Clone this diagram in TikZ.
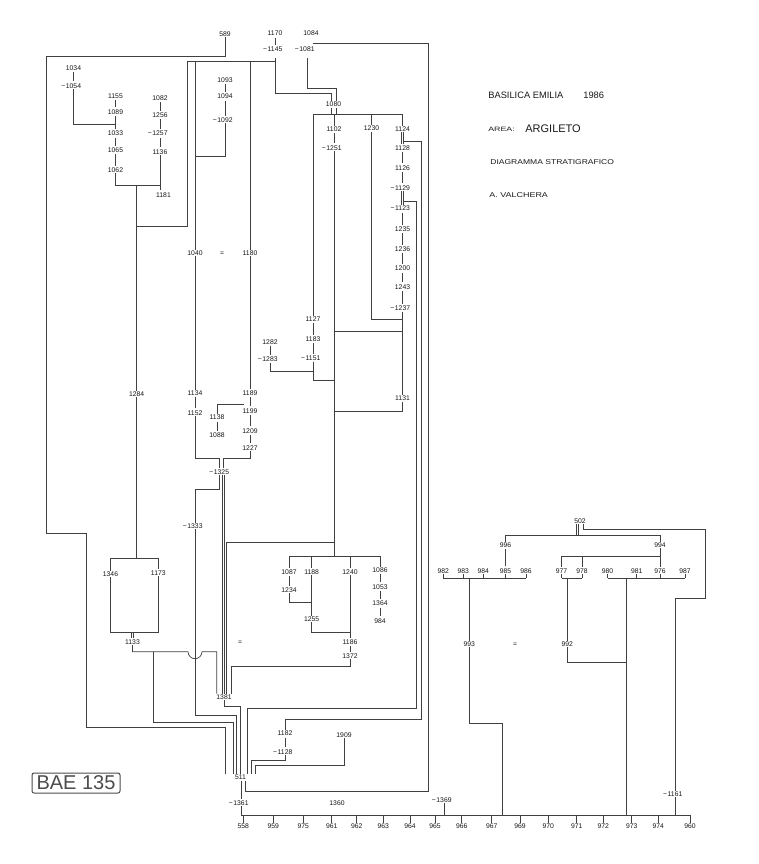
\documentclass[tikz,border=0pt]{standalone}
\usepackage{fontspec}
\setmainfont{Liberation Sans}
\usepackage{graphicx}
\newcommand\mylab[3]{\node[lab] (#1) at (#2) {#3};}
\newcommand\neglab[1]{\llap{−\kern0.6pt}#1}
\begin{document}
\begin{tikzpicture}[x=1pt,y=-1pt, line width=0.7pt, color=black!75,
  lab/.style={font=\fontsize{6.8}{7}\selectfont, inner sep=0.7pt, text=black!92},
  vt/.style={shorten <=1pt, shorten >=1pt},
  eqlk/.style={double=white, double distance=1.3pt, line width=0.55pt},
  ttl/.style={anchor=west, inner sep=0pt, text=black!90}]
\useasboundingbox (0,0) rectangle (758,864);
\coordinate (bl) at (0,815);
\coordinate (rowA) at (0,578.3);
% ---------- labels, left part
\mylab{n589}{225,34}{589}
\mylab{n1170}{275,33.5}{1170}
\mylab{nm1145}{275,49.5}{\neglab{1145}}
\mylab{n1084}{311,33}{1084}
\mylab{nm1081}{307,49.5}{\neglab{1081}}
\mylab{n1034}{73.5,68}{1034}
\mylab{nm1054}{73.5,85.7}{\neglab{1054}}
\mylab{n1155}{115.5,96}{1155}
\mylab{n1089}{115.5,111.7}{1089}
\mylab{n1033}{115.5,133.3}{1033}
\mylab{n1065}{115.5,150}{1065}
\mylab{n1062}{115.5,170}{1062}
\mylab{n1082}{160,98}{1082}
\mylab{n1256}{160,115}{1256}
\mylab{nm1257}{160,133.3}{\neglab{1257}}
\mylab{n1136}{160,151.7}{1136}
\mylab{n1181}{163.5,195}{1181}
\mylab{n1093}{225,80}{1093}
\mylab{n1094}{225,96.5}{1094}
\mylab{nm1092}{225,120}{\neglab{1092}}
\mylab{n1040}{195,253}{1040}
\mylab{eqa}{222,254}{=}
\mylab{n1180}{250,253}{1180}
\mylab{n1284}{136.7,394}{1284}
\mylab{n1134}{195,393}{1134}
\mylab{n1152}{195,412.7}{1152}
\mylab{n1189}{250,392.7}{1189}
\mylab{n1199}{250,410.7}{1199}
\mylab{n1209}{250,430.7}{1209}
\mylab{n1227}{250,447.7}{1227}
\mylab{n1138}{217,417.3}{1138}
\mylab{n1088}{217,435}{1088}
\mylab{nm1325}{221.5,471.7}{\neglab{1325}}
\mylab{nm1333}{195,526}{\neglab{1333}}
\mylab{n1346}{110.5,574}{1346}
\mylab{n1173}{158.3,572.7}{1173}
\mylab{n1133}{132.5,641.7}{1133}
\mylab{n1381}{224,697}{1381}
% ---------- labels, middle part
\mylab{n1080}{333.5,104.3}{1080}
\mylab{n1102}{334,129}{1102}
\mylab{nm1251}{334,147.7}{\neglab{1251}}
\mylab{n1230}{371.5,128.3}{1230}
\mylab{n1124}{402.5,129}{1124}
\mylab{n1128}{402.5,147.7}{1128}
\mylab{n1126}{402.5,167.7}{1126}
\mylab{nm1129}{402.5,187.7}{\neglab{1129}}
\mylab{nm1123}{402.5,208.3}{\neglab{1123}}
\mylab{n1235}{402.5,229}{1235}
\mylab{n1236}{402.5,249}{1236}
\mylab{n1200}{402.5,268.3}{1200}
\mylab{n1243}{402.5,286.7}{1243}
\mylab{nm1237}{402.5,308.3}{\neglab{1237}}
\mylab{n1131}{402.5,398.3}{1131}
\mylab{n1127}{313,319}{1127}
\mylab{n1183}{313,339}{1183}
\mylab{nm1151}{313,358.3}{\neglab{1151}}
\mylab{n1282}{270,341.7}{1282}
\mylab{nm1283}{270,359.3}{\neglab{1283}}
\mylab{n1087}{289,571.7}{1087}
\mylab{n1234}{289,590}{1234}
\mylab{n1188}{311.7,571.7}{1188}
\mylab{n1255}{311.7,619}{1255}
\mylab{n1240}{350,571.7}{1240}
\mylab{n1186}{350,641.7}{1186}
\mylab{n1372}{350,656}{1372}
\mylab{n1086}{380,570}{1086}
\mylab{n1053}{380,586.7}{1053}
\mylab{n1364}{380,603.3}{1364}
\mylab{n984}{380,620.7}{984}
\mylab{eqb}{240,643}{=}
\mylab{n1182}{285,733.3}{1182}
\mylab{nm1128}{285,751.7}{\neglab{1128}}
\mylab{n1909}{344,735}{1909}
\mylab{n511}{240.5,777.3}{511}
\mylab{nm1361}{241,802.7}{\neglab{1361}}
\mylab{n1360}{337,802.7}{1360}
\mylab{nm1369}{444,800}{\neglab{1369}}
% ---------- bottom row
\mylab{b558}{243.3,826}{558}
\mylab{b959}{273.3,826}{959}
\mylab{b975}{303.3,826}{975}
\mylab{b961}{331.7,826}{961}
\mylab{b962}{356.7,826}{962}
\mylab{b963}{383.3,826}{963}
\mylab{b964}{410,826}{964}
\mylab{b965}{435,826}{965}
\mylab{b966}{461.7,826}{966}
\mylab{b967}{491.7,826}{967}
\mylab{b969}{520,826}{969}
\mylab{b970}{548.3,826}{970}
\mylab{b971}{576.7,826}{971}
\mylab{b972}{603.3,826}{972}
\mylab{b973}{631.7,826}{973}
\mylab{b974}{658.3,826}{974}
\mylab{b960}{690,826}{960}
% ---------- right cluster
\mylab{n502}{580,520.7}{502}
\mylab{n996}{505.5,545}{996}
\mylab{n994}{660,545}{994}
\mylab{r982}{443.3,570.7}{982}
\mylab{r983}{463.3,570.7}{983}
\mylab{r984}{483.3,570.7}{984}
\mylab{r985}{505.5,570.7}{985}
\mylab{r986}{526,570.7}{986}
\mylab{r977}{561.5,570.7}{977}
\mylab{r978}{582,570.7}{978}
\mylab{r980}{607.5,570.7}{980}
\mylab{r981}{636.7,570.7}{981}
\mylab{r976}{660,570.7}{976}
\mylab{r987}{685,570.7}{987}
\mylab{n993}{469.3,644}{993}
\mylab{eqc}{515,645}{=}
\mylab{n992}{567.3,644}{992}
\mylab{nm1161}{675,794}{\neglab{1161}}
% ---------- title
\node[ttl] (t1) at (488,95) {\fontsize{9.3}{10}\selectfont BASILICA EMILIA};
\node[ttl] (t2) at (583,95) {\fontsize{9.3}{10}\selectfont 1986};
\node[ttl] (t3) at (488,129.5) {\scalebox{1.4}[1]{\fontsize{6.3}{7}\selectfont AREA:}};
\node[ttl] (t4) at (525,128.5) {\fontsize{11}{12}\selectfont ARGILETO};
\node[ttl] (t5) at (490,161.7) {\scalebox{1.22}[1]{\fontsize{7}{8}\selectfont DIAGRAMMA STRATIGRAFICO}};
\node[ttl] (t6) at (489,195) {\scalebox{1.28}[1]{\fontsize{7}{8}\selectfont A. VALCHERA}};
\node[draw=black!70, line width=1pt, rounded corners=2pt, minimum width=88pt, minimum height=20pt, inner sep=0pt, text=black!70, font=\fontsize{20}{20}\selectfont] (bae) at (76,783) {BAE 135};
% ================= connectors
% 589
\draw (n589.south) -- (225,56.7) -- (46,56.7) -- (46,533.3) -- (86.7,533.3) -- (86.7,727.3) -- (225,727.3) -- (225,0 |- n511.north);
% 1170 / -1145
\draw[vt] (n1170) -- (nm1145);
\draw[eqlk] (nm1145.south) -- (275,58);
\draw (275,58) -- (275,93.3) -- (331,93.3) -- (331,0 |- n1080.north);
\draw (275,61.7) -- (187,61.7) -- (187,226.7) -- (136.7,226.7);
\draw (195,61.7) -- (n1040.north);
\draw (250,61.7) -- (n1180.north);
% 1084 / -1081
\draw[eqlk] (n1084.south) -- (n1084.south |- nm1081.north);
\draw (312.5,43.3) -- (428.3,43.3) -- (428.3,791.7) -- (245,791.7) -- (245,0 |- n511.south);
\draw[eqlk] (nm1081.south) -- (307,58);
\draw (307,58) -- (307,88.3) -- (336,88.3) -- (336,0 |- n1080.north);
% 1034
\draw[vt] (n1034) -- (nm1054);
\draw (nm1054.south) -- (73.5,124.3) -- (115.5,124.3);
% column 1155
\draw[vt] (n1155) -- (n1089);
\draw[vt] (n1089) -- (n1033);
\draw[vt] (n1033) -- (n1065);
\draw[vt] (n1065) -- (n1062);
\draw (n1062.south) -- (115.5,185) -- (160,185);
% column 1082
\draw[vt] (n1082) -- (n1256);
\draw[vt] (n1256) -- (nm1257);
\draw[vt] (nm1257) -- (n1136);
\draw (n1136.south) -- (160,190);
% long line 1284
\draw (136.7,185) -- (n1284.north);
\draw (n1284.south) -- (136.7,558.3);
\draw (n1346.north) -- (110.5,558.3) -- (158.3,558.3) -- (n1173.north);
\draw (n1346.south) -- (110.5,632.7) -- (158.3,632.7) -- (n1173.south);
\draw[eqlk] (132.5,632.7) -- (n1133.north);
\draw (n1133.south) -- (132.5,651.7) -- (188,651.7) arc[start angle=180,end angle=0,radius=7] -- (216.7,651.7) -- (216.7,0 |- n1381.north);
\draw (153.3,651.7) -- (153.3,722) -- (233.3,722) -- (233.3,0 |- n511.north);
% column 1093
\draw[vt] (n1093) -- (n1094);
\draw[vt] (n1094) -- (nm1092);
\draw (nm1092.south) -- (225,156.7) -- (195,156.7);
% 1040 = 1180
\draw (n1040.south) -- (n1134.north);
\draw (n1180.south) -- (n1189.north);
\draw[vt] (n1134) -- (n1152);
\draw[vt] (n1189) -- (n1199);
\draw[eqlk] (245,0 |- n1189.south) -- (245,404);
\draw (244,404) -- (217,404) -- (n1138.north);
\draw[vt] (n1199) -- (n1209);
\draw[vt] (n1209) -- (n1227);
\draw[vt] (n1138) -- (n1088);
\draw (n1152.south) -- (195,458) -- (219.5,458) -- (219.5,0 |- nm1325.north);
\draw (n1227.south) -- (250,458) -- (223.5,458) -- (223.5,0 |- nm1325.north);
% below -1325
\draw (219.3,0 |- nm1325.south) -- (219.3,489.3) -- (195,489.3) -- (nm1333.north);
\draw (221.9,0 |- nm1325.south) -- (221.9,0 |- n1381.north);
\draw (224.3,0 |- nm1325.south) -- (224.3,0 |- n1381.north);
\draw (nm1333.south) -- (195,715) -- (236.7,715) -- (236.7,0 |- n511.north);
% 1080 group
\draw (331,0 |- n1080.south) -- (331,114.3);
\draw (336,0 |- n1080.south) -- (336,114.3);
\draw (n1127.north) -- (313,114.3) -- (402.5,114.3) -- (n1124.north);
\draw (371.5,114.3) -- (n1230.north);
\draw (334,114.3) -- (n1102.north);
\draw[vt] (n1102) -- (nm1251);
\draw (nm1251.south) -- (334,556.7);
\draw (n1230.south) -- (371.5,319.3) -- (402.5,319.3);
% column 1124
\draw[eqlk] (n1124) -- (n1128);
\draw (404,141.7) -- (421.7,141.7) -- (421.7,719.3) -- (285,719.3) -- (n1182.north);
\draw[vt] (n1128) -- (n1126);
\draw[vt] (n1126) -- (nm1129);
\draw[eqlk] (nm1129) -- (nm1123);
\draw (404,201) -- (416,201) -- (416,708.3) -- (247.5,708.3) -- (247.5,0 |- n511.north);
\draw[vt] (nm1123) -- (n1235);
\draw[vt] (n1235) -- (n1236);
\draw[vt] (n1236) -- (n1200);
\draw[vt] (n1200) -- (n1243);
\draw[vt] (n1243) -- (nm1237);
\draw (nm1237.south) -- (n1131.north);
\draw (334,331.7) -- (402.5,331.7);
\draw (n1131.south) -- (402.5,411.7) -- (334,411.7);
% column 1127
\draw[vt] (n1127) -- (n1183);
\draw[vt] (n1183) -- (nm1151);
\draw (nm1151.south) -- (313,380) -- (334,380);
\draw[vt] (n1282) -- (nm1283);
\draw (nm1283.south) -- (270,371.7) -- (313,371.7);
% 1087 group
\draw (n1087.north) -- (289,556.7) -- (380,556.7) -- (n1086.north);
\draw (311.7,556.7) -- (n1188.north);
\draw (350,556.7) -- (n1240.north);
\draw[vt] (n1087) -- (n1234);
\draw (n1234.south) -- (289,602.7) -- (311.7,602.7);
\draw (n1188.south) -- (n1255.north);
\draw (n1255.south) -- (311.7,632.7) -- (350,632.7);
\draw (n1240.south) -- (n1186.north);
\draw[vt] (n1186) -- (n1372);
\draw (n1372.south) -- (350,666) -- (231.5,666) -- (231.5,0 |- n1381.north);
\draw[vt] (n1086) -- (n1053);
\draw[vt] (n1053) -- (n1364);
\draw[vt] (n1364) -- (n984);
\draw (334,542.7) -- (226.8,542.7) -- (226.8,0 |- n1381.north);
% into 511
\draw (n1381.south) -- (224,706.7) -- (240,706.7) -- (240,0 |- n511.north);
\draw[vt] (n1182) -- (nm1128);
\draw (nm1128.south) -- (285,760) -- (251.5,760) -- (251.5,0 |- n511.north);
\draw (n1909.south) -- (344,765) -- (255,765) -- (255,0 |- n511.north);
% below 511
\draw (241,0 |- n511.south) -- (nm1361.north);
\draw[eqlk] (337,791.7) -- (n1360.north);
\draw (nm1361.south) -- (nm1361.south |- bl);
\draw (nm1369.south) -- (nm1369.south |- bl);
% bottom line
\draw (241,815) -- (690,815);
\foreach \n in {b558,b959,b975,b961,b962,b963,b964,b965,b966,b967,b969,b970,b971,b972,b973,b974,b960}
  \draw (\n.north) -- (\n.north |- bl);
% right cluster
\draw[eqlk] (577.5,0 |- n502.south) -- (577.5,535);
\draw (505.5,535) -- (660,535);
\draw (505.5,535) -- (n996.north);
\draw (660,535) -- (n994.north);
\draw (583.5,0 |- n502.south) -- (583.5,529.3) -- (705,529.3) -- (705,598.3) -- (675,598.3) -- (nm1161.north);
\draw[vt] (n996) -- (r985);
\foreach \n in {r982,r983,r984,r985,r986,r977,r978,r980,r981,r976,r987}
  \draw (\n.south) -- (\n.south |- rowA);
\draw (443.3,578.3) -- (526,578.3);
\draw (469.3,578.3) -- (n993.north);
\draw (n993.south) -- (469.3,723.3) -- (502.7,723.3) -- (502.7,815);
\draw (n994.south) -- (r976.north);
\draw (660,556) -- (561.5,556) -- (r977.north);
\draw (582,556) -- (r978.north);
\draw (561.5,578.3) -- (582,578.3);
\draw (567.3,578.3) -- (n992.north);
\draw (607.5,578.3) -- (685,578.3);
\draw (626.7,578.3) -- (626.7,815);
\draw (n992.south) -- (567.3,662.7) -- (626.7,662.7);
\draw (nm1161.south) -- (675,815);
\end{tikzpicture}
\end{document}
